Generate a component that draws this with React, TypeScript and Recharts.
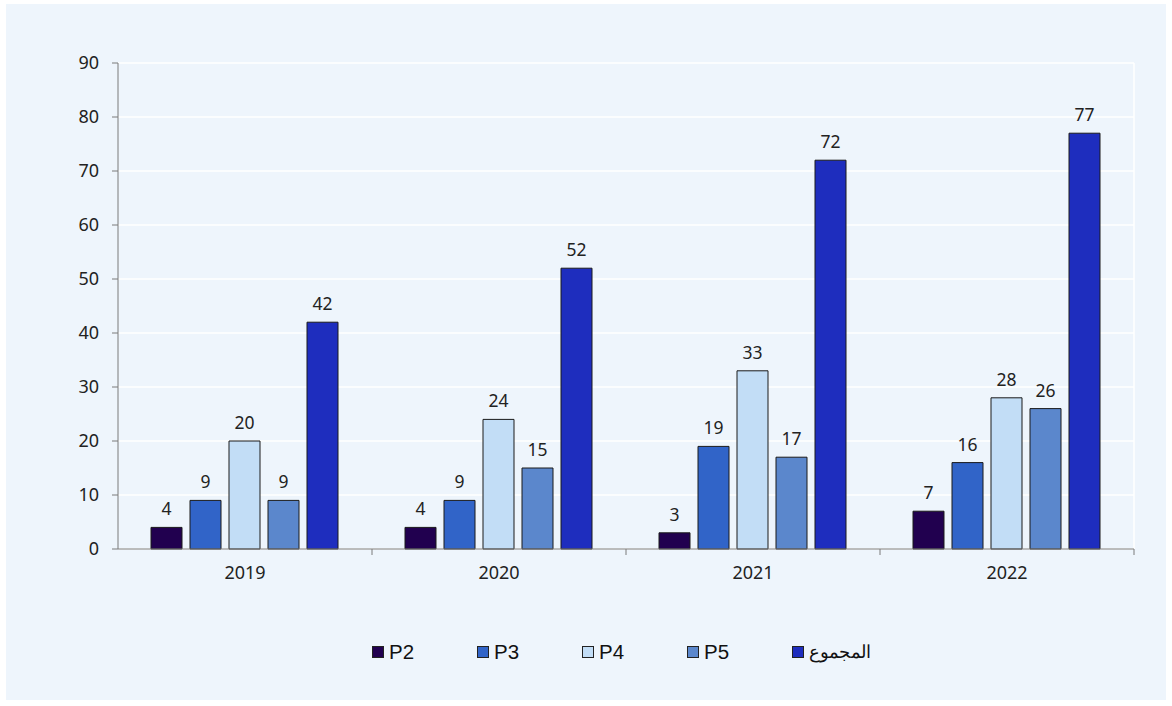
import { BarChart, Bar, XAxis, YAxis, CartesianGrid, LabelList } from "recharts";

const years = ["2019", "2020", "2021", "2022"];
const p2 = [4, 4, 3, 7];
const p3 = [9, 9, 19, 16];
const p4 = [20, 24, 33, 28];
const p5 = [9, 15, 17, 26];
const total = [42, 52, 72, 77];
const yTicks = [0, 10, 20, 30, 40, 50, 60, 70, 80, 90];

const SERIES = [
  { key: "p2", name: "P2", color: "#21004F" },
  { key: "p3", name: "P3", color: "#3164C8" },
  { key: "p4", name: "P4", color: "#C2DDF6" },
  { key: "p5", name: "P5", color: "#5B87CC" },
  { key: "total", name: "المجموع", color: "#1E2DBE" },
];

const data = years.map((year, i) => ({
  year,
  p2: p2[i],
  p3: p3[i],
  p4: p4[i],
  p5: p5[i],
  total: total[i],
}));

const FONT = "'Noto Sans', 'Open Sans', sans-serif";
const BAND = 254; // width of one category band

function YearTick({ x, y, payload }: any) {
  return (
    <g>
      <line x1={x + BAND / 2} x2={x + BAND / 2} y1={y - 8} y2={y - 2} stroke="#7a7a7a" />
      <text x={x} y={y + 22} textAnchor="middle" fontSize={18} fill="#222" fontFamily={FONT}>
        {payload.value}
      </text>
    </g>
  );
}

export default function App() {
  return (
    <div style={{ position: "fixed", left: 0, top: 0, width: 1172, height: 706, background: "#fff" }}>
      <div
        style={{
          position: "absolute", left: 6, top: 4, width: 1160, height: 696,
          background: "#EEF5FC",
        }}
      >
        <BarChart
          width={1160}
          height={600}
          data={data}
          margin={{ top: 59, right: 32, left: 52, bottom: 15 }}
          barCategoryGap={33}
          barGap={8}
        >
          <CartesianGrid
            stroke="#ffffff"
            strokeWidth={1.5}
            verticalCoordinatesGenerator={({ offset }: any) => [offset.left + offset.width]}
          />
          <XAxis
            dataKey="year"
            height={40}
            axisLine={{ stroke: "#7a7a7a" }}
            tickLine={false}
            tick={<YearTick />}
            interval={0}
          />
          <YAxis
            width={60}
            domain={[0, 90]}
            ticks={yTicks}
            interval={0}
            axisLine={{ stroke: "#7a7a7a" }}
            tickLine={{ stroke: "#7a7a7a" }}
            tickSize={6}
            tickMargin={13}
            tick={{ fontSize: 18, fill: "#222", fontFamily: FONT }}
          />
          {SERIES.map((s) => (
            <Bar
              key={s.key}
              dataKey={s.key}
              name={s.name}
              fill={s.color}
              stroke="#1a1a1a"
              strokeWidth={1}
              isAnimationActive={false}
            >
              <LabelList
                dataKey={s.key}
                position="top"
                offset={12}
                style={{ fontSize: 17.5, fill: "#222", fontFamily: FONT }}
              />
            </Bar>
          ))}
        </BarChart>
        <div
          style={{
            position: "absolute", left: 366, top: 636, display: "flex",
            fontFamily: "'Liberation Sans', Arial, sans-serif", fontSize: 20.5, color: "#111",
          }}
        >
          {SERIES.map((s) => (
            <div key={s.key} style={{ width: 105, display: "flex", alignItems: "center" }}>
              <span
                style={{
                  width: 10, height: 10, background: s.color, border: "1px solid #222",
                  marginRight: 5, display: "inline-block",
                }}
              />
              <span style={{ fontSize: s.key === "total" ? 18 : 20.5 }}>{s.name}</span>
            </div>
          ))}
        </div>
      </div>
    </div>
  );
}
